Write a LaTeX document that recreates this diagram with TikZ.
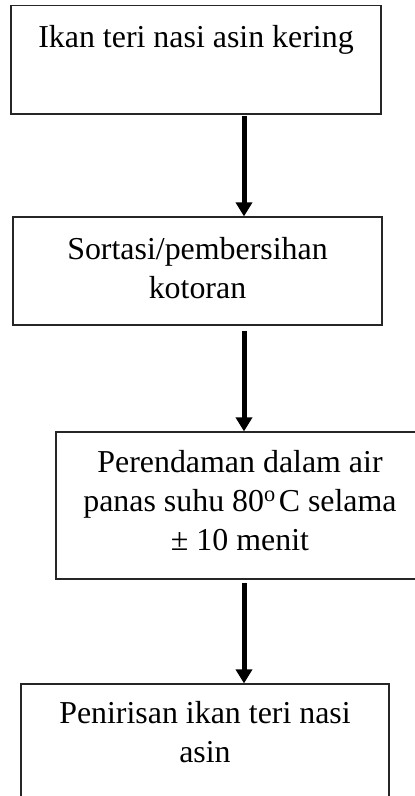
\documentclass[tikz,border=0pt]{standalone}
\usepackage{fontspec}
\setmainfont{Liberation Serif}
\usetikzlibrary{arrows.meta}
\begin{document}
\begin{tikzpicture}[x=1pt,y=-1pt,
  box/.style={draw=black!85, line width=1.2pt, rectangle, inner sep=0pt},
  txt/.style={font=\fontsize{31.9pt}{39pt}\selectfont, align=center, inner sep=0pt, anchor=base},
  arr/.style={line width=5pt, -{Triangle[width=16pt,length=14pt]}}]
\useasboundingbox (0,0) rectangle (415,796);
\clip (0,0) rectangle (415,796);
\node[box, minimum width=370pt, minimum height=108.5pt] (b1) at (196,59.75) {};
\node[box, minimum width=369pt, minimum height=108pt] (b2) at (197.5,271) {};
\node[box, minimum width=368pt, minimum height=147pt] (b3) at (240,505.5) {};
\node[box, minimum width=368pt, minimum height=130pt] (b4) at (205,749) {};
\node[txt] (t1) at (196,47) {Ikan teri nasi asin kering};
\node[txt] (t2) at (197.5,298) {Sortasi/pembersihan\\kotoran};
\node[txt] (t3) at (240,550) {Perendaman dalam air\\panas suhu 80\textsuperscript{o}\hspace{3pt}C selama\\± 10 menit};
\node[txt] (t4) at (205,762) {Penirisan ikan teri nasi\\asin};
\coordinate (ax) at (244,0);
\draw[arr, shorten <=1pt] (b1.south -| ax) -- (b2.north -| ax);
\draw[arr, shorten <=5pt] (b2.south -| ax) -- (b3.north -| ax);
\draw[arr, shorten <=3pt] (b3.south -| ax) -- (b4.north -| ax);
\end{tikzpicture}
\end{document}
